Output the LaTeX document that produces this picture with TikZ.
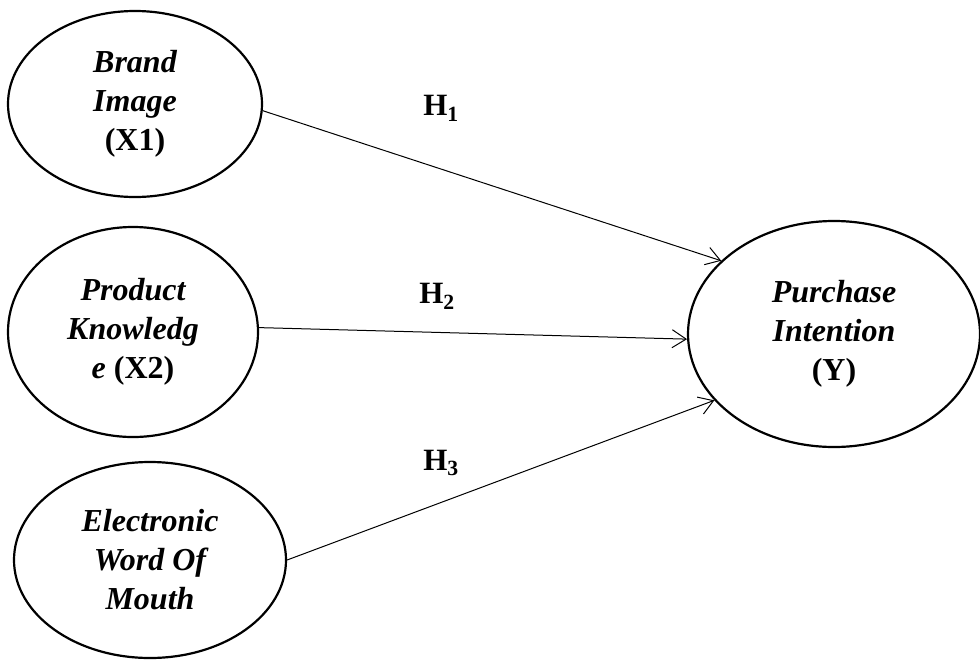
\documentclass[tikz,border=0pt]{standalone}
\usepackage{fontspec}
\setmainfont{Liberation Serif}
\usetikzlibrary{shapes.geometric,arrows.meta}

\begin{document}
\begin{tikzpicture}[x=1pt, y=-1pt,
    varbox/.style={ellipse, draw, line width=2.2pt, inner sep=0pt, align=center,
        font=\fontsize{32}{39}\selectfont\bfseries},
    path/.style={line width=1pt, -{Straight Barb[length=14pt, width=18pt, line width=1pt]}},
    hyp/.style={font=\fontsize{31}{36}\selectfont\bfseries}]

    % Fix the page size
    \useasboundingbox (0,0) rectangle (980,659);

    % Draw the variables
    \node[varbox, minimum width=254pt, minimum height=186pt] (brand) at (135,104)
        {\itshape Brand\\\itshape Image\\(X1)};
    \node[varbox, minimum width=250pt, minimum height=210pt] (product) at (133,332)
        {\itshape Product\\\itshape Knowledg\\{\itshape e} (X2)};
    \node[varbox, minimum width=272pt, minimum height=196pt] (ewom) at (150,560)
        {\itshape Electronic\\\itshape Word Of\\\itshape Mouth};
    \node[varbox, minimum width=292pt, minimum height=226pt] (purchase) at (834,334)
        {\itshape Purchase\\\itshape Intention\\(Y)};

    % Draw the hypothesis paths
    \draw[path] (brand.-3) -- (purchase.147);
    \draw[path] (product.2) -- (purchase.182);
    \draw[path] (ewom.east) -- (purchase.209);

    % Label the hypotheses
    \node[hyp] (h1) at (441,108) {H\textsubscript{1}};
    \node[hyp] (h2) at (437,296) {H\textsubscript{2}};
    \node[hyp] (h3) at (441,463) {H\textsubscript{3}};

\end{tikzpicture}
\end{document}
